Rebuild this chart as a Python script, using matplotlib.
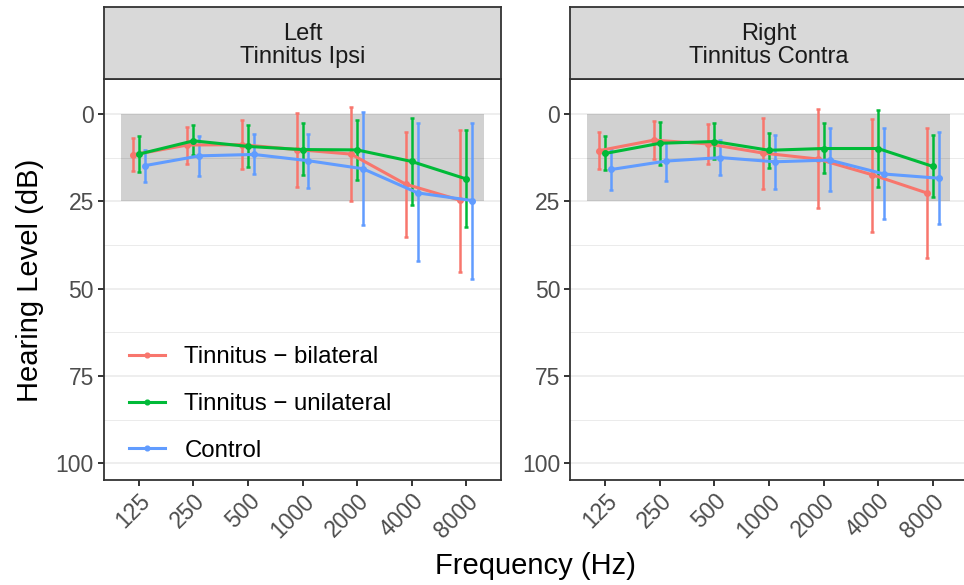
import numpy as np
import matplotlib
matplotlib.use("Agg")
import matplotlib.pyplot as plt
from matplotlib.lines import Line2D

plt.rcParams["font.family"] = ["Liberation Sans", "DejaVu Sans"]

# data (dB HL, mean and error-bar ends)
freqs = ["125", "250", "500", "1000", "2000", "4000", "8000"]
groups = ["Tinnitus \u2212 bilateral", "Tinnitus \u2212 unilateral", "Control"]
colors = ["#F8766D", "#00BA38", "#619CFF"]

left_bilat_mean = [11.7, 8.9, 8.8, 10.2, 11.5, 20.1, 24.7]
left_bilat_lo = [7.0, 3.6, 1.7, -0.3, -2.0, 5.2, 4.6]
left_bilat_hi = [16.2, 14.3, 15.8, 20.9, 24.8, 35.1, 45.2]
left_unil_mean = [11.5, 7.7, 9.3, 10.2, 10.3, 13.6, 18.6]
left_unil_lo = [6.4, 3.3, 3.2, 2.6, 1.6, 1.1, 4.6]
left_unil_hi = [16.7, 11.7, 15.3, 17.4, 18.9, 26.1, 32.5]
left_ctrl_mean = [14.8, 12.0, 11.6, 13.4, 15.7, 22.6, 24.8]
left_ctrl_lo = [10.2, 6.3, 5.7, 5.7, -0.6, 2.6, 2.5]
left_ctrl_hi = [19.5, 17.7, 17.3, 21.1, 31.7, 42.2, 47.2]

right_bilat_mean = [10.5, 7.5, 8.6, 11.2, 12.9, 17.4, 22.6]
right_bilat_lo = [5.2, 2.0, 3.0, 1.3, -1.3, 1.4, 4.1]
right_bilat_hi = [15.8, 12.9, 14.4, 21.4, 27.0, 33.7, 41.3]
right_unil_mean = [11.3, 8.4, 7.9, 10.4, 9.9, 9.9, 15.0]
right_unil_lo = [6.4, 2.3, 2.6, 5.4, 2.6, -1.1, 5.9]
right_unil_hi = [16.1, 14.7, 13.0, 15.5, 17.0, 20.9, 23.7]
right_ctrl_mean = [15.9, 13.5, 12.5, 13.7, 13.2, 17.2, 18.4]
right_ctrl_lo = [10.1, 7.9, 7.5, 5.9, 4.0, 3.9, 5.1]
right_ctrl_hi = [21.8, 19.1, 17.5, 21.6, 22.2, 30.2, 31.6]

panels = [
    ("Left\nTinnitus Ipsi",
     [(left_bilat_mean, left_bilat_lo, left_bilat_hi),
      (left_unil_mean, left_unil_lo, left_unil_hi),
      (left_ctrl_mean, left_ctrl_lo, left_ctrl_hi)]),
    ("Right\nTinnitus Contra",
     [(right_bilat_mean, right_bilat_lo, right_bilat_hi),
      (right_unil_mean, right_unil_lo, right_unil_hi),
      (right_ctrl_mean, right_ctrl_lo, right_ctrl_hi)]),
]

W, H = 964, 585
fig = plt.figure(figsize=(W / 100, H / 100), dpi=100)

border = "#333333"
tick_col = "#4d4d4d"
offsets = [-0.11, 0.0, 0.11]
x = np.arange(len(freqs))

axes = []
for i, (title, series) in enumerate(panels):
    left_px = 103.5 if i == 0 else 570
    ax = fig.add_axes([left_px / W, 1 - 480 / H, 398 / W, 401 / H])
    strip = fig.add_axes([left_px / W, 1 - 79 / H, 398 / W, 71.7 / H])
    axes.append(ax)

    # strip
    strip.set_facecolor("#d9d9d9")
    strip.set_xticks([])
    strip.set_yticks([])
    for s in strip.spines.values():
        s.set_color(border)
        s.set_linewidth(1.3)
    strip.text(0.5, 0.47, title, ha="center", va="center", fontsize=17,
               color="#1a1a1a", linespacing=1.08, transform=strip.transAxes)

    # normal hearing band
    ax.axhspan(0, 25, xmin=(-0.33 + 0.65) / 7.3, xmax=(6.32 + 0.65) / 7.3,
               color="black", alpha=0.18, lw=0, zorder=1)

    for (mean, lo, hi), col, off in zip(series, colors, offsets):
        m = np.array(mean)
        xs = x + off
        ax.errorbar(xs, m, yerr=[m - np.array(lo), np.array(hi) - m], fmt="none",
                    ecolor=col, elinewidth=1.8, capsize=1.6, capthick=1.8, zorder=3)
        ax.plot(xs, m, color=col, lw=2.2, marker="o", ms=4, zorder=4)

    ax.set_xlim(-0.65, 6.65)
    ax.set_ylim(104.8, -10)
    ax.set_xticks(x)
    ax.set_xticklabels(freqs, rotation=45, ha="right", va="top",
                       rotation_mode="anchor")
    ax.set_yticks([0, 25, 50, 75, 100])
    ax.set_yticks([12.5, 37.5, 62.5, 87.5], minor=True)
    ax.grid(axis="y", which="major", color="#ebebeb", lw=1.2, zorder=0)
    ax.grid(axis="y", which="minor", color="#ebebeb", lw=0.7, zorder=0)
    ax.set_axisbelow(True)
    ax.tick_params(axis="both", which="major", length=4.5, width=1.4,
                   color=border, labelcolor=tick_col, labelsize=16.5, pad=2.5)
    ax.tick_params(axis="y", which="minor", length=0)
    for s in ax.spines.values():
        s.set_color(border)
        s.set_linewidth(1.3)

# legend inside left panel
handles = [Line2D([], [], color=c, lw=2.2, marker="o", ms=3.4) for c in colors]
axes[0].legend(handles, groups, loc="center left",
               bbox_to_anchor=((129 - 103.5) / 398, (480 - 404) / 401),
               frameon=False, fontsize=17.3, labelspacing=1.02,
               handlelength=1.5, handletextpad=0.8, borderpad=0,
               borderaxespad=0)

fig.text(535 / W, 1 - 566 / H, "Frequency (Hz)", ha="center", va="center",
         fontsize=21)
fig.text(30 / W, 1 - 280 / H, "Hearing Level (dB)", ha="center", va="center",
         rotation=90, fontsize=21)

fig.savefig("out.png", dpi=100)
